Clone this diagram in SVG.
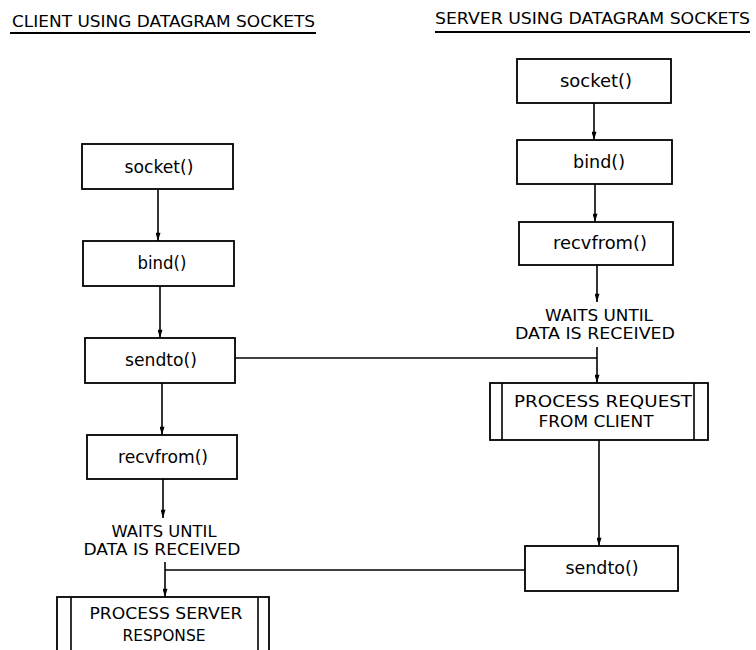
<svg xmlns="http://www.w3.org/2000/svg" width="756" height="650" viewBox="0 0 756 650">
<style>
.box{fill:#fff;stroke:#000;stroke-width:1.8}
.ln{fill:none;stroke:#000;stroke-width:1.6}
.t{font-family:"DejaVu Sans","Liberation Sans",sans-serif;fill:#000;text-anchor:middle;font-size:15px}
.f{font-size:17px}
.h{font-family:"DejaVu Sans","Liberation Sans",sans-serif;fill:#000;font-size:16px}
</style>
<defs>
<marker id="ah" viewBox="0 0 10 6" refX="10" refY="3" markerWidth="9" markerHeight="5" markerUnits="userSpaceOnUse" orient="auto">
<path d="M0,0 L10,3 L0,6 z" fill="#000"/>
</marker>
</defs>
<rect width="756" height="650" fill="#fff"/>

<g id="titles">
<text class="h" x="12" y="27" textLength="303" lengthAdjust="spacingAndGlyphs">CLIENT  USING  DATAGRAM  SOCKETS</text>
<line x1="10" y1="33" x2="316" y2="33" stroke="#000" stroke-width="2"/>
<text class="h" x="435" y="24" textLength="315" lengthAdjust="spacingAndGlyphs">SERVER  USING  DATAGRAM  SOCKETS</text>
<line x1="435" y1="32" x2="750" y2="32" stroke="#000" stroke-width="2"/>
</g>

<g id="connectors">
<line class="ln" x1="158" y1="189" x2="158" y2="241" marker-end="url(#ah)"/>
<line class="ln" x1="160" y1="286" x2="160" y2="338" marker-end="url(#ah)"/>
<line class="ln" x1="162" y1="383" x2="162" y2="435" marker-end="url(#ah)"/>
<line class="ln" x1="163" y1="479" x2="163" y2="518" marker-end="url(#ah)"/>
<line class="ln" x1="165" y1="562" x2="165" y2="597" marker-end="url(#ah)"/>
<line class="ln" x1="165" y1="570" x2="525" y2="570"/>
<line class="ln" x1="235" y1="358" x2="597" y2="358"/>
<line class="ln" x1="594" y1="103" x2="594" y2="140" marker-end="url(#ah)"/>
<line class="ln" x1="595" y1="184" x2="595" y2="222" marker-end="url(#ah)"/>
<line class="ln" x1="597" y1="265" x2="597" y2="302" marker-end="url(#ah)"/>
<line class="ln" x1="597" y1="347" x2="597" y2="383" marker-end="url(#ah)"/>
<line class="ln" x1="599" y1="440" x2="599" y2="546" marker-end="url(#ah)"/>
</g>

<g id="c_socket">
<rect class="box" x="82" y="144" width="151" height="45"/>
<text class="t f" x="159" y="173" textLength="69" lengthAdjust="spacingAndGlyphs">socket()</text>
</g>
<g id="c_bind">
<rect class="box" x="83" y="241" width="151" height="45"/>
<text class="t f" x="162" y="269" textLength="49" lengthAdjust="spacingAndGlyphs">bind()</text>
</g>
<g id="c_sendto">
<rect class="box" x="85" y="338" width="150" height="45"/>
<text class="t f" x="161" y="366" textLength="72" lengthAdjust="spacingAndGlyphs">sendto()</text>
</g>
<g id="c_recvfrom">
<rect class="box" x="87" y="435" width="150" height="44"/>
<text class="t f" x="163" y="463" textLength="90" lengthAdjust="spacingAndGlyphs">recvfrom()</text>
</g>
<g id="c_wait">
<text class="t" x="164" y="537" textLength="105" lengthAdjust="spacingAndGlyphs">WAITS  UNTIL</text>
<text class="t" x="162" y="555" textLength="157" lengthAdjust="spacingAndGlyphs">DATA  IS  RECEIVED</text>
</g>
<g id="c_process">
<rect class="box" x="57" y="597" width="212" height="70"/>
<line class="ln" x1="71" y1="597" x2="71" y2="667"/>
<line class="ln" x1="258" y1="597" x2="258" y2="667"/>
<text class="t" x="166" y="619" textLength="153" lengthAdjust="spacingAndGlyphs">PROCESS  SERVER</text>
<text class="t" x="164" y="641" textLength="83" lengthAdjust="spacingAndGlyphs">RESPONSE</text>
</g>

<g id="s_socket">
<rect class="box" x="517" y="59" width="154" height="44"/>
<text class="t f" x="596" y="87" textLength="72" lengthAdjust="spacingAndGlyphs">socket()</text>
</g>
<g id="s_bind">
<rect class="box" x="517" y="140" width="155" height="44"/>
<text class="t f" x="599" y="168" textLength="52" lengthAdjust="spacingAndGlyphs">bind()</text>
</g>
<g id="s_recvfrom">
<rect class="box" x="519" y="222" width="154" height="43"/>
<text class="t f" x="600" y="249" textLength="94" lengthAdjust="spacingAndGlyphs">recvfrom()</text>
</g>
<g id="s_wait">
<text class="t" x="599" y="321" textLength="108" lengthAdjust="spacingAndGlyphs">WAITS  UNTIL</text>
<text class="t" x="595" y="339" textLength="160" lengthAdjust="spacingAndGlyphs">DATA  IS  RECEIVED</text>
</g>
<g id="s_process">
<rect class="box" x="490" y="383" width="218" height="57"/>
<line class="ln" x1="502" y1="383" x2="502" y2="440"/>
<line class="ln" x1="694" y1="383" x2="694" y2="440"/>
<text class="t" x="603" y="407" textLength="178" lengthAdjust="spacingAndGlyphs">PROCESS  REQUEST</text>
<text class="t" x="596" y="427" textLength="115" lengthAdjust="spacingAndGlyphs">FROM  CLIENT</text>
</g>
<g id="s_sendto">
<rect class="box" x="525" y="546" width="153" height="45"/>
<text class="t f" x="602" y="574" textLength="73" lengthAdjust="spacingAndGlyphs">sendto()</text>
</g>
</svg>
